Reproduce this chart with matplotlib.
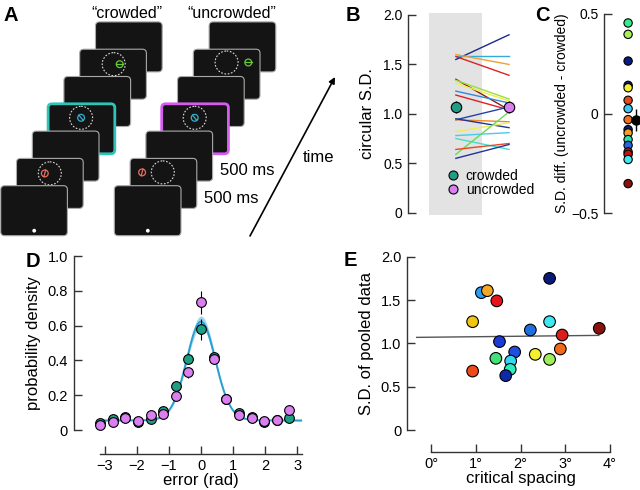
import matplotlib
matplotlib.use('Agg')
import matplotlib.pyplot as plt
from matplotlib.patches import FancyBboxPatch, Circle
from matplotlib.lines import Line2D
import numpy as np

plt.rcParams['font.family'] = ['Liberation Sans', 'DejaVu Sans']
plt.rcParams['axes.unicode_minus'] = True

CROWDED = '#1f9e84'
UNCROWDED = '#d97ff0'
SPINE = '#333333'

# ---- panel B: circular S.D. per subject ----
b_crowded = [1.55, 1.59, 1.60, 1.58, 1.35, 1.34, 1.31, 1.23, 1.19,
             0.94, 0.94, 0.95, 0.82, 0.78, 0.75, 0.59, 0.64, 0.55]
b_uncrowded = [1.80, 1.59, 1.50, 1.39, 1.04, 1.15, 1.13, 1.11, 1.04,
               1.07, 0.92, 0.86, 0.91, 0.81, 0.64, 1.02, 0.70, 0.69]
b_colors = ['#1a2a8a', '#33aadd', '#f0a030', '#dd2222', '#8b1a1a', '#99dd44',
            '#eeee44', '#3388dd', '#dd2222', '#2244aa', '#ee8822', '#223399',
            '#eeee55', '#44ccee', '#44ddcc', '#66dd55', '#ee4422', '#223399']
b_means = [1.07, 1.07]
b_mean_err = [0.06, 0.06]

# ---- panel C: S.D. difference ----
c_diff = [0.455, 0.398, 0.264, 0.142, 0.130, 0.067, 0.025, -0.030, -0.080,
          -0.097, -0.130, -0.159, -0.192, -0.204, -0.230, -0.351]
c_colors = ['#33ee88', '#a6ef5a', '#0a1a80', '#0a1a80', '#f4f030', '#e84a1a',
            '#3cc8f0', '#f07020', '#0a1a80', '#f5a020', '#2ce0b0', '#2266e0',
            '#e01818', '#c81010', '#3ee8f0', '#8b1010']
c_mean = -0.03
c_mean_err = 0.055

# ---- panel D: error distributions ----
d_bin_centres = np.pi / 8 * np.arange(-8, 8)
d_crowded = [0.038, 0.061, 0.073, 0.048, 0.063, 0.111, 0.253, 0.410,
             0.579, 0.420, 0.180, 0.100, 0.077, 0.048, 0.057, 0.067]
d_uncrowded = [0.027, 0.046, 0.067, 0.054, 0.088, 0.090, 0.195, 0.331,
               0.734, 0.410, 0.180, 0.088, 0.067, 0.054, 0.057, 0.115]
d_err_crowded = [0.01, 0.01, 0.01, 0.01, 0.01, 0.015, 0.02, 0.03,
                 0.06, 0.03, 0.02, 0.015, 0.01, 0.01, 0.01, 0.01]
d_err_uncrowded = [0.01, 0.01, 0.01, 0.01, 0.01, 0.015, 0.02, 0.03,
                   0.065, 0.03, 0.02, 0.015, 0.01, 0.01, 0.01, 0.02]
# fitted von Mises + uniform mixture
fit_kappa = 5.0
fit_guess = 0.345
fit_band = 0.05

# ---- panel E: critical spacing vs pooled S.D. ----
e_spacing = [1.125, 1.26, 1.47, 0.93, 2.65, 2.22, 2.65, 2.93, 3.76, 1.53,
             1.87, 1.45, 1.78, 1.77, 1.67, 0.93, 2.33, 2.65, 2.89]
e_sd = [1.585, 1.608, 1.49, 1.25, 1.75, 1.154, 1.25, 1.096, 1.173, 1.02,
        0.90, 0.827, 0.796, 0.70, 0.627, 0.68, 0.873, 0.815, 0.935]
e_colors = ['#2a9df4', '#f5a623', '#e8141b', '#f2c511', '#0a1a7a', '#1f6fe0',
            '#3ee8f0', '#d81e1e', '#8b1010', '#1c3ad8', '#1f4fe0', '#44e07a',
            '#38d6f0', '#2cecc0', '#0c2aa8', '#f04a1a', '#f4f030', '#9ef05a',
            '#f06a1a']
e_fit_x = [-0.32, 3.75]
e_fit_y = [1.069, 1.092]


def px_axes(fig, left, top, right, bottom):
    # axes placed in pixel coords of the 640x490 figure
    return fig.add_axes([left / 640, 1 - bottom / 490,
                         (right - left) / 640, (bottom - top) / 490])


def style_axis(ax, fs=10.5):
    for s in ['top', 'right']:
        ax.spines[s].set_visible(False)
    for s in ['left', 'bottom']:
        ax.spines[s].set_color(SPINE)
        ax.spines[s].set_linewidth(1)
    ax.tick_params(direction='in', length=6, width=1, color=SPINE,
                   labelsize=fs, pad=4)
    ax.patch.set_alpha(0)


def draw_screen(ax, x, y, edge='#aaaaaa', lw=0.8):
    ax.add_patch(FancyBboxPatch((x, y), 66.7, 50,
                                boxstyle='round,pad=0,rounding_size=4',
                                fc='#141414', ec=edge, lw=lw))


def draw_grating(ax, cx, cy, color, angle):
    ax.add_patch(Circle((cx, cy), 3.4, fc='none', ec=color, lw=0.9))
    a = np.deg2rad(angle)
    ax.plot([cx - 3.4 * np.cos(a), cx + 3.4 * np.cos(a)],
            [cy + 3.4 * np.sin(a), cy - 3.4 * np.sin(a)], color=color, lw=0.9)


def draw_dashed(ax, cx, cy):
    ax.add_patch(Circle((cx, cy), 11.5, fc='none', ec='#dddddd', lw=0.8,
                        ls=(0, (1.5, 1.5))))


fig = plt.figure(figsize=(6.4, 4.9), dpi=100)

# ---- panel A: schematic ----
ov = fig.add_axes([0, 0, 1, 1])
ov.set_xlim(0, 640)
ov.set_ylim(490, 0)
ov.axis('off')

stacks = [(0.7, '#2ec4b6'), (114.3, '#d65cf0')]
for si, (x0, hl) in enumerate(stacks):
    for i in range(6, -1, -1):
        x = x0 + 15.8 * i
        y = 185.7 - 27.3 * i
        if i == 3:
            draw_screen(ov, x, y, edge=hl, lw=2)
        else:
            draw_screen(ov, x, y)
        if i == 0:
            ov.add_patch(Circle((x + 33.5, y + 45), 1.2, color='white'))
        elif i == 1:
            if si == 0:
                draw_dashed(ov, x + 33.3, y + 15)
                draw_grating(ov, x + 28.3, y + 15, '#e87060', 75)
            else:
                draw_dashed(ov, x + 32.7, y + 14)
                draw_grating(ov, x + 12, y + 14, '#e87060', 75)
        elif i == 3:
            draw_dashed(ov, x + 33, y + 14)
            draw_grating(ov, x + 33, y + 14, '#33b0cc', -50)
        elif i == 5:
            if si == 0:
                draw_dashed(ov, x + 34, y + 15)
                draw_grating(ov, x + 40, y + 15, '#66cc33', 0)
            else:
                draw_dashed(ov, x + 33.3, y + 13.3)
                draw_grating(ov, x + 55, y + 13.3, '#66cc33', 0)

ov.text(127, 13, '\u201ccrowded\u201d', fontsize=11.5, ha='center', va='center')
ov.text(232, 13, '\u201cuncrowded\u201d', fontsize=11.5, ha='center', va='center')
ov.text(220, 170, '500 ms', fontsize=12, va='center')
ov.text(204, 198, '500 ms', fontsize=12, va='center')
ov.text(303, 157, 'time', fontsize=12, va='center')
ov.annotate('', xy=(335, 77), xytext=(250, 236),
            arrowprops=dict(arrowstyle='-|>', color='black', lw=1.2,
                            mutation_scale=9, shrinkA=0, shrinkB=0))

for letter, lx, ly in [('A', 3, 21), ('B', 346, 21), ('C', 535, 21),
                       ('D', 26, 267), ('E', 344, 266)]:
    ov.text(lx, ly, letter, fontsize=14.5, fontweight='bold')

# ---- panel B ----
axb = px_axes(fig, 408, 15, 517, 212.7)
style_axis(axb, 10)
axb.axvspan(-0.5, 0.5, ymin=-0.01, ymax=1.01, color='#e3e3e3', lw=0,
            clip_on=False, zorder=0)
for c0, c1, col in zip(b_crowded, b_uncrowded, b_colors):
    axb.plot([0, 1], [c0, c1], color=col, lw=1, zorder=2)
axb.errorbar([0, 1], b_means, yerr=b_mean_err, fmt='none', ecolor='black',
             elinewidth=1, zorder=3)
axb.plot(0, b_means[0], 'o', mfc=CROWDED, mec='black', mew=0.8, ms=7.5, zorder=4)
axb.plot(1, b_means[1], 'o', mfc=UNCROWDED, mec='black', mew=0.8, ms=7.5,
         zorder=4, clip_on=False)
axb.set_xlim(-0.9, 1.15)
axb.set_ylim(0, 2.0)
axb.spines['bottom'].set_visible(False)
axb.set_xticks([])
axb.set_yticks([0, 0.5, 1.0, 1.5, 2.0])
axb.set_yticklabels(['0', '0.5', '1.0', '1.5', '2.0'])
axb.set_ylabel('circular S.D.', fontsize=12, labelpad=6)
handles = [Line2D([], [], marker='o', ls='', mfc=CROWDED, mec='black', mew=0.8, ms=6.5),
           Line2D([], [], marker='o', ls='', mfc=UNCROWDED, mec='black', mew=0.8, ms=6.5)]
axb.legend(handles, ['crowded', 'uncrowded'], loc='lower left',
           bbox_to_anchor=(0.365, 0.08), frameon=False, fontsize=10,
           handlelength=0.7, handletextpad=0.6, labelspacing=0.0,
           borderpad=0, borderaxespad=0)

# ---- panel C ----
axc = px_axes(fig, 604.3, 14, 640, 213.3)
style_axis(axc, 10)
axc.scatter(np.ones(len(c_diff)), c_diff, c=c_colors, s=36, edgecolors='black',
            linewidths=0.8, zorder=3, clip_on=False)
axc.errorbar([1.33], [c_mean], yerr=c_mean_err, fmt='o', color='black',
             ms=6.5, elinewidth=1, zorder=4, clip_on=False)
axc.set_xlim(0, 1.5)
axc.set_ylim(-0.5, 0.5)
axc.spines['bottom'].set_visible(False)
axc.set_xticks([])
axc.set_yticks([-0.5, 0, 0.5])
axc.set_yticklabels(['\u22120.5', '0', '0.5'])
axc.set_ylabel('S.D. diff. (uncrowded - crowded)', fontsize=10, labelpad=2)

# ---- panel D ----
axd = px_axes(fig, 100, 256, 302, 430)
style_axis(axd)
xx = np.linspace(-np.pi, np.pi, 400)
vm = np.exp(fit_kappa * np.cos(xx)) / (2 * np.pi * np.i0(fit_kappa))
peak = (1 - fit_guess) * vm
base = fit_guess / (2 * np.pi)
axd.fill_between(xx, base + peak * (1 - fit_band) - 0.004,
                 base + peak * (1 + fit_band) + 0.004, color='#9fd6ee', lw=0,
                 zorder=1)
axd.plot(xx, base + peak, color='#2a9fd0', lw=1.4, zorder=2)
axd.errorbar(d_bin_centres, d_crowded, yerr=d_err_crowded, fmt='none',
             ecolor='black', elinewidth=0.8, zorder=3)
axd.errorbar(d_bin_centres, d_uncrowded, yerr=d_err_uncrowded, fmt='none',
             ecolor='black', elinewidth=0.8, zorder=3)
axd.plot(d_bin_centres, d_crowded, 'o', mfc=CROWDED, mec='black', mew=0.8,
         ms=7, zorder=4, clip_on=False)
axd.plot(d_bin_centres, d_uncrowded, 'o', mfc=UNCROWDED, mec='black', mew=0.8,
         ms=7, zorder=5, clip_on=False)
axd.set_xlim(-np.pi, np.pi)
axd.set_ylim(0, 1.0)
axd.spines['left'].set_position(('outward', 19))
axd.spines['bottom'].set_position(('outward', 17))
axd.spines['bottom'].set_bounds(-np.pi, np.pi)
axd.set_xticks([-3, -2, -1, 0, 1, 2, 3])
axd.set_xticklabels(['\u22123', '\u22122', '\u22121', '0', '1', '2', '3'])
axd.set_yticks([0, 0.2, 0.4, 0.6, 0.8, 1.0])
axd.set_yticklabels(['0', '0.2', '0.4', '0.6', '0.8', '1.0'])
axd.set_xlabel('error (rad)', fontsize=12, labelpad=0)
axd.set_ylabel('probability density', fontsize=12, labelpad=5)

# ---- panel E ----
axe = px_axes(fig, 431, 256.7, 610, 430)
style_axis(axe)
axe.plot(e_fit_x, e_fit_y, color='#555555', lw=1, zorder=1, clip_on=False)
axe.scatter(e_spacing, e_sd, c=e_colors, s=70, edgecolors='black',
            linewidths=0.8, zorder=3, clip_on=False)
axe.set_xlim(0, 4)
axe.set_ylim(0, 2.0)
axe.spines['left'].set_position(('outward', 17.5))
axe.spines['bottom'].set_position(('outward', 15.5))
axe.set_xticks([0, 1, 2, 3, 4])
axe.set_xticklabels(['0\u00b0', '1\u00b0', '2\u00b0', '3\u00b0', '4\u00b0'])
axe.set_yticks([0, 0.5, 1.0, 1.5, 2.0])
axe.set_yticklabels(['0', '0.5', '1.0', '1.5', '2.0'])
axe.set_xlabel('critical spacing', fontsize=12, labelpad=0)
axe.set_ylabel('S.D. of pooled data', fontsize=12, labelpad=5)

fig.savefig('out.png', dpi=100)
